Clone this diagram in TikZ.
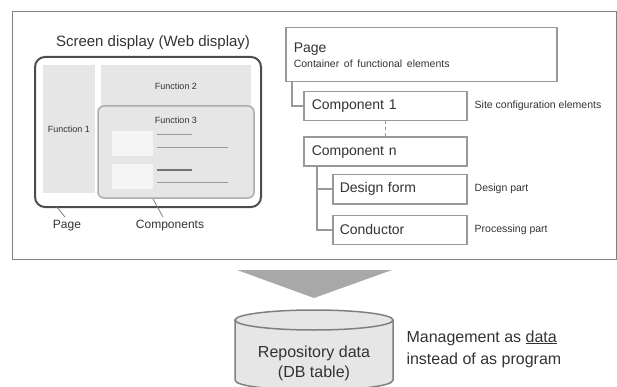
\documentclass[tikz,border=0pt]{standalone}
\usepackage{fontspec}
\setmainfont{Liberation Sans}
\usepackage{xcolor}
\usepackage{tikz}
\usetikzlibrary{positioning}
\definecolor{txt}{HTML}{333333}
\definecolor{boxline}{HTML}{999999}
\definecolor{framegray}{HTML}{808080}
\definecolor{fungray}{HTML}{E6E6E6}
\definecolor{arrowgray}{HTML}{A8A8A8}

\begin{document}
\begin{tikzpicture}[x=1pt,y=-1pt,
  every node/.style={text=txt},
  box/.style={draw=boxline,line width=1.5pt,fill=white,inner xsep=8pt,
              align=left,minimum height=29pt,font=\fontsize{14}{16}\selectfont},
  compbox/.style={box,text width=147pt},
  partbox/.style={box,inner xsep=7pt,text width=120pt},
  note/.style={inner sep=0pt,font=\fontsize{10.5}{12}\selectfont},
  fn/.style={font=\fontsize{9}{11}\selectfont},
  funbox/.style={fill=fungray,inner sep=0pt,fn},
  link/.style={draw=boxline,line width=1.5pt},
  pointer/.style={draw=framegray,line width=0.8pt}]
\useasboundingbox (0,0) rectangle (617,387);
\draw[framegray,line width=0.8pt] (12,11) rectangle (616,259);

% screen sketch
\node[font=\fontsize{15}{18}\selectfont] (title) at (153,43) {Screen display (Web display)};
\node[draw=black!70,line width=2pt,rounded corners=10pt,minimum width=226pt,
      minimum height=150pt] (screen) at (148,132) {};
\node[funbox,minimum width=52pt,minimum height=128pt] (fun1) at (69,129) {Function 1};
\node[funbox,minimum width=150pt,minimum height=43pt] (fun2) at (176,86.5) {Function 2};
\node[fill=fungray,draw=boxline!80,line width=1.5pt,rounded corners=6pt,
      minimum width=156pt,minimum height=92pt] (fun3) at (176,152) {};
\node[fn,below=8pt of fun3.north] (fun3lbl) {Function 3};
\fill[black!4] (112,131) rectangle (153,156);
\fill[black!4] (112,164) rectangle (153,189);
\draw[boxline,line width=0.8pt] (157,134) -- (192,134) (157,147) -- (228,147)
      (157,182) -- (228,182);
\draw[black!55,line width=1.2pt] (157,170) -- (192,170);
\node[font=\fontsize{12}{14}\selectfont] (pagelbl) at (67,226) {Page};
\node[font=\fontsize{12}{14}\selectfont] (complbl) at (170,226) {Components};
\coordinate (pagetip) at (57,207);
\coordinate (comptip) at (153,199);
\draw[pointer] (pagetip) -- ([xshift=-2pt]pagelbl.north);
\draw[pointer] (comptip) -- ([xshift=-7pt]complbl.north);

% structure tree
\node[box,text width=255pt,minimum height=54pt,anchor=north west] (page) at (285,27)
     {Page\\[-1pt]{\fontsize{10.5}{12}\selectfont Container of functional elements}};
\node[compbox,anchor=north west] (comp1) at (303,91) {Component 1};
\node[compbox,below=15pt of comp1.south west,anchor=north west] (compn) {Component n};
\node[partbox,anchor=north west] (design) at (332,174) {Design form};
\node[partbox,below=10pt of design.south west,anchor=north west] (cond) {Conductor};
\node[note,right=7pt of comp1,anchor=west] (site) {Site configuration elements};
\node[note,right=7pt of design,anchor=west] (dpart) {Design part};
\node[note,right=7pt of cond,anchor=west] (ppart) {Processing part};
\draw[link] ([xshift=7pt]page.south west) |- (comp1.west);
\draw[link,dashed,line width=0.8pt] (comp1.south) -- (compn.north);
\draw[link] ([xshift=14pt]compn.south west) |- (design.west);
\draw[link] ([xshift=14pt]compn.south west) |- (cond.west);

% down arrow and repository
\fill[arrowgray] (237,270) -- (392,270) -- (314,298) -- cycle;
\fill[fungray] (235,320) -- (235,380) .. controls (235,393.3) and (393,393.3) .. (393,380)
      -- (393,320) -- cycle;
\draw[framegray,line width=1.5pt] (235,320) -- (235,380) .. controls (235,393.3) and (393,393.3)
      .. (393,380) -- (393,320);
\draw[framegray,line width=1.5pt,fill=fungray] (314,320) ellipse [x radius=79,y radius=10];
\node[align=center,font=\fontsize{16}{20}\selectfont] (repo) at (314,363)
     {Repository data\\(DB table)};
\node[align=left,anchor=west,font=\fontsize{16}{22}\selectfont] (mgmt) at (403,349)
     {Management as \underline{data}\\instead of as program};
\end{tikzpicture}
\end{document}
